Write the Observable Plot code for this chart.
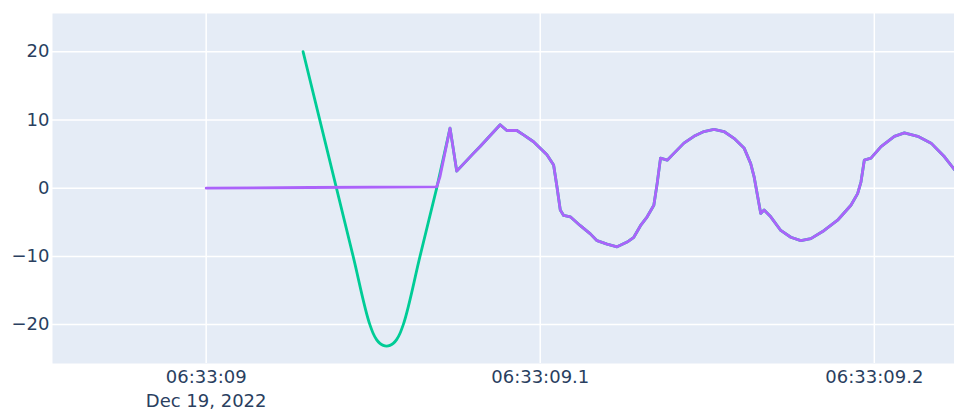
<!DOCTYPE html>
<html>
<head>
<meta charset="utf-8">
<script src="https://cdn.jsdelivr.net/npm/d3@7"></script>
<script src="https://cdn.jsdelivr.net/npm/@observablehq/plot@0.6"></script>
<style>
  html, body { margin: 0; padding: 0; background: #fff; }
</style>
</head>
<body>
<div id="chart"></div>
<script>
// Time offsets in milliseconds after 2022-12-19 06:33:09.000 (UTC)
const purpleMs = [0, 31.4, 69.3, 70.8, 73.4, 75.8, 80.3, 82.8, 88.3, 90.8, 93.3, 95.3, 98.8, 102.3, 104.3, 105.3, 106.3, 107.3,
  109.3, 112.3, 115.3, 117.3, 120.3, 123.3, 126.3, 128.2, 130.2, 132.7, 134.7, 135.7, 136.7, 138.2, 140.7, 143.2, 146.2,
  149.2, 152.2, 155.2, 158.2, 161.2, 163.7, 164.7, 165.7, 166.7, 167.7, 169.7, 172.7, 175.1, 178.1, 181.1, 185.1, 189.1,
  193.1, 195.6, 196.6, 197.6, 199.1, 202.1, 206.1, 209.6, 213.5, 217.1, 221.1, 224.3, 226];
const purpleVal = [0, 0.1, 0.2, 1.7, 8.8, 2.5, 5.1, 6.1, 9.3, 8.45, 8.45, 7.8, 6.8, 4.9, 3.4, 0.2, -3.2, -4.0,
  -4.2, -5.5, -6.7, -7.7, -8.2, -8.6, -7.9, -7.2, -5.5, -4.2, -2.5, 0.7, 4.4, 4.1, 5.1, 6.6, 7.6,
  8.3, 8.6, 8.3, 7.3, 5.9, 3.6, 1.7, -1.0, -3.7, -3.2, -4.2, -6.2, -7.2, -7.7, -7.4, -6.2, -4.7,
  -2.5, -0.8, 0.9, 4.1, 4.4, 6.1, 7.6, 8.1, 7.6, 6.6, 4.6, 2.7, 2.1];
// Green trace before it joins the purple one
const greenMs = [29.6, 34.5, 39.3, 44.2, 49.0, 50.0, 51.0, 52.0, 53.0, 54.15, 55.3, 56.3, 57.3, 58.3, 59.3, 64.3, 69.3];
const greenVal = [20, 10, 0, -10, -20, -21.3, -22.2, -22.75, -23.05, -23.15, -23.05, -22.75, -22.2, -21.3, -20, -10, 0];

const yTicks = [-20, -10, 0, 10, 20];
const xTickMs = [0, 100, 200];
const xTickLabels = ["06:33:09\nDec 19, 2022", "06:33:09.1", "06:33:09.2"];

const base = Date.UTC(2022, 11, 19, 6, 33, 9);
const toDate = ms => new Date(base + ms);

const purple = purpleMs.map((m, i) => ({t: toDate(m), v: purpleVal[i]}));
const greenHead = greenMs.map((m, i) => ({t: toDate(m), v: greenVal[i]}));
const greenTail = purpleMs.map((m, i) => ({t: toDate(m), v: purpleVal[i], m})).filter(d => d.m >= 73.4);
greenTail.unshift(greenHead[greenHead.length - 1]);

const xTicks = xTickMs.map(toDate);
const labelOf = new Map(xTicks.map((d, i) => [+d, xTickLabels[i]]));

const textColor = "#2a3f5f";

const chart = Plot.plot({
  width: 954,
  height: 410,
  marginLeft: 52,
  marginRight: 0,
  marginTop: 13,
  marginBottom: 47,
  style: {fontFamily: "DejaVu Sans, Verdana, sans-serif", fontSize: "18px", color: textColor, background: "#fff"},
  x: {type: "utc", domain: [toDate(-45.8), toDate(224.3)], label: null},
  y: {domain: [-25.7, 25.6], label: null},
  marks: [
    Plot.frame({fill: "#e5ecf6", stroke: null}),
    Plot.gridY(yTicks, {stroke: "#fff", strokeOpacity: 1, strokeWidth: 1.5}),
    Plot.gridX(xTicks, {stroke: "#fff", strokeOpacity: 1, strokeWidth: 1.5}),
    Plot.axisY(yTicks, {tickSize: 0, tickPadding: 3, fontSize: 18, fill: textColor, label: null,
      tickFormat: d => d < 0 ? "\u2212" + Math.abs(d) : String(d)}),
    Plot.axisX(xTicks, {tickSize: 0, tickPadding: 3, fontSize: 18, fill: textColor, lineHeight: 1.3, label: null,
      tickFormat: d => labelOf.get(+d)}),
    Plot.line(greenHead, {x: "t", y: "v", stroke: "#00cc96", strokeWidth: 2.8, clip: true, curve: "monotone-x"}),
    Plot.line(greenTail, {x: "t", y: "v", stroke: "#00cc96", strokeWidth: 2.8, clip: true}),
    Plot.line(purple, {x: "t", y: "v", stroke: "#ab63fa", strokeWidth: 2.8, clip: true})
  ]
});
document.getElementById("chart").appendChild(chart);
</script>
</body>
</html>
